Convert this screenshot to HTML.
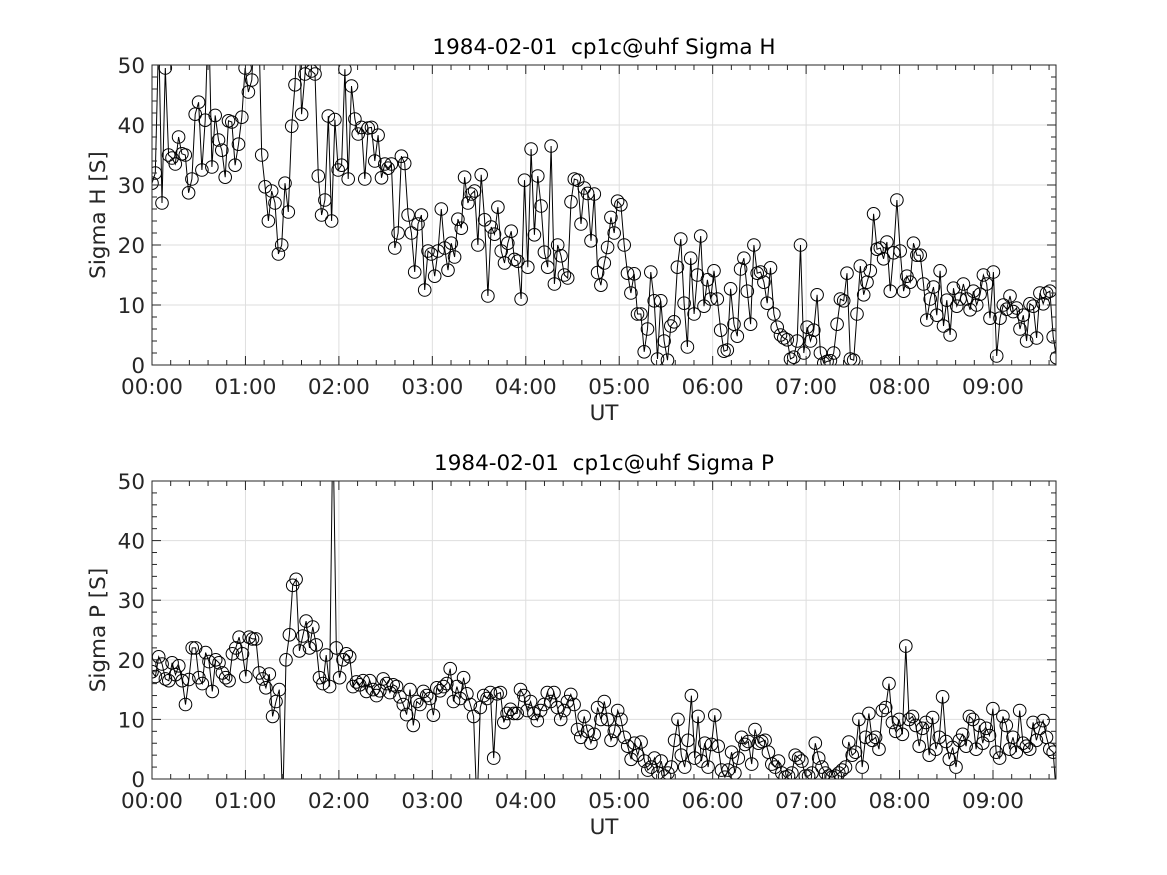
<!DOCTYPE html>
<html><head><meta charset="utf-8">
<style>
html,body{margin:0;padding:0;background:#fff;}
svg{display:block;font-family:"DejaVu Sans","Liberation Sans",sans-serif;}
text{white-space:pre;}
</style></head>
<body>
<svg id="fig" width="1167" height="875" viewBox="0 0 1167 875" xmlns="http://www.w3.org/2000/svg"></svg>
<script>
const tStartHours = 0;
const tEndHours = 9.68;
const xTickLabels = ["00:00","01:00","02:00","03:00","04:00","05:00","06:00","07:00","08:00","09:00"];
const yTickLabels = ["0","10","20","30","40","50"];
const sigmaH = [
30.3,32,55,27,49.5,35,34.5,33.5,38,35.2,35,28.7,31,41.8,
43.8,32.5,40.8,60,33,41.6,37.5,35.8,31.3,40.7,40.5,33.3,36.8,41.3,
49.5,45.5,47.5,60,60,35,29.7,24,29,27,18.5,20,30.3,25.5,39.8,46.7,
60,41.8,48.5,60,49,48.5,31.5,25,27.5,41.5,24,40.9,32.5,33.3,
49.3,31,46.5,41,38.5,39.6,31,39.5,39.6,34,38.3,31.2,33.5,32.8,
33.5,19.5,22,34.8,33.6,25,22,15.5,23.5,25,12.5,19,18.5,14.8,
19,26,19.5,15.8,20.3,18,24.3,22.8,31.3,27,28.5,29,20,31.7,
24.2,11.5,23,21.8,26.3,19,17,20.3,22.3,17.6,17.3,11,30.8,16.3,
36,21.7,31.5,26.5,18.8,16.3,36.5,13.5,20,18.2,15,14.5,27.2,31,
30.8,23.5,29.5,28.6,20.7,28.5,15.4,13.3,17,19.6,24.6,22,27.3,26.7,
20,15.3,12,15.2,8.5,8.5,2.2,6,15.5,10.7,1,10.7,4,0.8,
6.5,7.2,16.3,21,10.3,3,17.8,8.5,15,21.5,9.8,14.2,11,15.7,
11,5.8,2.3,2.5,12.7,6.8,4.8,16,17.8,12.3,6.8,20,15.3,15.5,
13.8,10.3,16.2,8.5,6.3,5,4.5,4.2,1,1.3,4,20,2,6.3,
4,5.8,11.7,2,0.3,0.6,0.7,2,6.8,11,10.7,15.3,1,0.8,
8.5,16.5,11.7,13.8,15.7,25.2,19.3,19.5,17.7,20.5,12.3,18.7,27.5,19,
12.3,14.8,13.8,20.3,18.3,18.3,13.5,7.5,11,13,8.3,15.7,6.5,10.8,
5,12.8,9.8,11,13.5,11,9.2,12.3,10,11.8,15,13.5,7.8,15.5,
1.5,7.8,10,9.3,11.5,8.9,9.5,6,8.3,4,10.2,9.8,4.5,12,
10.2,12,12.3,4.7,1.2
];
const sigmaP = [
18,17.2,20.5,19.3,16.8,16.5,19.5,17.5,19,16.5,12.5,16.7,22,22,
17,16,21.2,19.7,14.7,20,19.5,17.8,17,16.5,21,22,23.8,21,
17.2,23.8,23.5,23.5,17.8,16.8,15.3,17.6,10.5,13,15,-5,20,24.2,
32.5,33.5,21.5,24,26.5,22,25.5,22.5,17,16,20.8,15.5,60,22,
17,20,21,20.5,15.5,16.3,15.8,16.5,14.7,16.5,15,14,14.8,16.8,
16,14.5,15.8,15.5,13.8,12.5,10.8,15,9,13,12.5,14.7,14,13.5,
10.7,15.3,14.8,15.5,16,18.5,13,15.5,13.5,17,14.3,12.5,10.5,-5,
12,14,13.5,14.5,3.5,14.3,14.5,9.5,11,11.7,11,11,15,14,
11.5,13,11,9.8,11.5,12.5,14.5,13,14.5,12,10,11.5,13,14.2,
12.5,8.3,7,10.5,8,6,7.5,12,10,13,10,6.5,8,11.5,
10,7,5.5,3.3,6,4,6.2,3,1.5,2,3.5,1,3,0.5,
1,2,6.5,10,4,2,6.5,14,3.5,10.5,3,6,2,5.8,
10.7,5.5,1.5,0.3,1.5,4.5,1,3.5,7,5.8,6.3,2.5,8.3,6,
6.3,6.5,4.5,2.5,2,3,1,0.3,0.5,1,4,3.5,3,0.5,
0.5,1,6,3.5,2,1,0.5,0.3,0.5,1,1.5,2,6.2,4,
4.5,10,2,7,11,6.5,7,5,11.5,12,16,9.5,8,10,
7.5,22.3,10,10.5,9,5.5,8.5,9.5,4,10.3,5,7,13.8,6.3,
3.3,5.3,2,6.5,7.5,5.5,10.5,10,5,9,6,8.5,7.3,11.8,
4.5,3.5,10.5,9,5,7,4.5,11.5,6,5.5,5,9.5,6.5,8.5,
9.8,7,5,4.5,-3
];

const NS = "http://www.w3.org/2000/svg";
const svg = document.getElementById("fig");
function mk(tag, attrs, parent){
  const e = document.createElementNS(NS, tag);
  for (const k in attrs) e.setAttribute(k, attrs[k]);
  (parent||svg).appendChild(e);
  return e;
}
const L = 152, R = 1056;
const hourPx = (993 - 152) / 9;
function xScale(h){ return L + (h - 0) * hourPx; }

function drawAxes(top, bottom, title, ylabel, data, key){
  const yScale = v => bottom - (v / 50) * (bottom - top);
  const g = mk("g", {});
  
  
  for (let h = 1; h <= 9; h++) {
    const x = xScale(h);
    const gl = mk("line", {x1:x, x2:x, y1:top, y2:bottom, stroke:"#dedede", "stroke-width":1}, g);
    
    
  }
  for (let i = 1; i < yTickLabels.length - 1; i++) {
    const y = yScale(+yTickLabels[i]);
    const gl = mk("line", {x1:L, x2:R, y1:y, y2:y, stroke:"#dedede", "stroke-width":1}, g);
    
    
  }
  const cid = "clip-" + key;
  const cp = mk("clipPath", {id:cid}, g);
  mk("rect", {x:L, y:top, width:R - L, height:bottom - top}, cp);
  const n = data.length;
  const step = (tEndHours - tStartHours) / (n - 1);
  const pts = data.map((v, i) => [xScale(tStartHours + i * step), yScale(v)]);
  const series = mk("g", {"clip-path":"url(#" + cid + ")"}, g);
  
  
  const pl = mk("polyline", {points: pts.map(p => p[0].toFixed(1) + "," + p[1].toFixed(1)).join(" "), fill:"none", stroke:"#000", "stroke-width":1}, series);
  
  
  pts.forEach(p => {
    const c = mk("circle", {cx:p[0].toFixed(1), cy:p[1].toFixed(1), r:6.3, fill:"none", stroke:"#000", "stroke-width":1}, series);
    
    
  });
  const box = mk("rect", {x:L, y:top, width:R - L, height:bottom - top, fill:"none", stroke:"#262626", "stroke-width":1}, g);
  
  
  for (let m = 0; m <= 9.68 * 5; m++) {
    const h = m / 5, x = xScale(h);
    if (x > R) break;
    const len = (m % 5 === 0) ? 9 : 5;
    mk("line", {x1:x, x2:x, y1:bottom, y2:bottom - len, stroke:"#262626"}, g);
    mk("line", {x1:x, x2:x, y1:top, y2:top + len, stroke:"#262626"}, g);
  }
  xTickLabels.forEach((lab, i) => {
    const t = mk("text", {x:xScale(i), y:bottom + 29, "text-anchor":"middle", "font-size":21.5, fill:"#262626"}, g);
    t.textContent = lab;
    
    
  });
  for (let v = 0; v <= 50; v += 2) {
    const y = yScale(v);
    const len = (v % 10 === 0) ? 9 : 5;
    mk("line", {x1:L, x2:L + len, y1:y, y2:y, stroke:"#262626"}, g);
    mk("line", {x1:R, x2:R - len, y1:y, y2:y, stroke:"#262626"}, g);
  }
  yTickLabels.forEach(lab => {
    const t = mk("text", {x:L - 7, y:yScale(+lab) + 8, "text-anchor":"end", "font-size":21.5, fill:"#262626"}, g);
    t.textContent = lab;
    
    
  });
  const tt = mk("text", {x:604, y:top - 11, "text-anchor":"middle", "font-size":21.5, fill:"#000", "xml:space":"preserve"}, g);
  tt.textContent = title;
  
  
  const xl = mk("text", {x:604, y:bottom + 55, "text-anchor":"middle", "font-size":21.5, fill:"#262626"}, g);
  xl.textContent = "UT";
  
  
  const yc = (top + bottom) / 2;
  const yl = mk("text", {x:105, y:yc, "text-anchor":"middle", "font-size":21.5, fill:"#262626", transform:"rotate(-90 105 " + yc + ")"}, g);
  yl.textContent = ylabel;
  
  
}
drawAxes(65, 365, "1984-02-01  cp1c@uhf Sigma H", "Sigma H [S]", sigmaH, "sigma-h");
drawAxes(481, 779, "1984-02-01  cp1c@uhf Sigma P", "Sigma P [S]", sigmaP, "sigma-p");
</script>
</body></html>
